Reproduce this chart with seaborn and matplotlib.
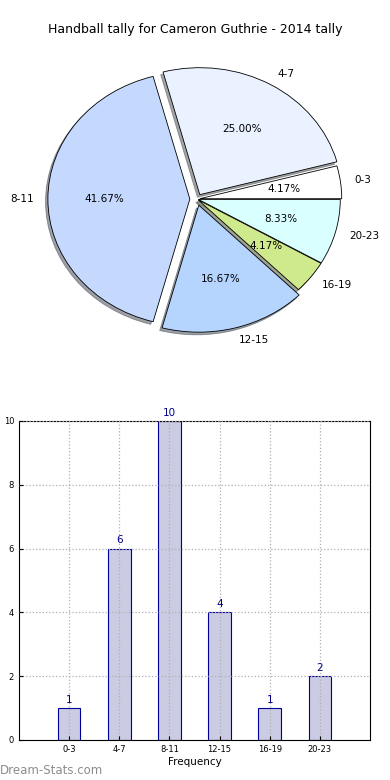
import numpy as np
import pandas as pd
import seaborn as sns
import matplotlib
matplotlib.use("Agg")
import matplotlib.pyplot as plt

# Handball tally data
ranges = ["0-3", "4-7", "8-11", "12-15", "16-19", "20-23"]
counts = [1, 6, 10, 4, 1, 2]
pie_colors = ["#ffffff", "#eaf2ff", "#c5d9ff", "#b5d5ff", "#cfea8c", "#d9ffff"]
explode = [0.02, 0.04, 0.05, 0.05, 0.01, 0.01]

sns.set_style("white")
plt.rcParams['font.family'] = ['DejaVu Sans']
plt.rcParams['text.color'] = 'black'
plt.rcParams['axes.labelcolor'] = 'black'
plt.rcParams['xtick.color'] = 'black'
plt.rcParams['ytick.color'] = 'black'

fig = plt.figure(figsize=(3.9, 7.8), dpi=100)

# Pie chart of the tally (slightly squashed, like the original)
ax_pie = fig.add_axes([0.05, 0.5413, 0.910, 0.407])
wedges, texts, autotexts = ax_pie.pie(counts, labels=ranges, colors=pie_colors, explode=explode,
                                      autopct='%1.2f%%', startangle=0,
                                      shadow={"ox": -0.012, "oy": -0.015},
                                      wedgeprops={"edgecolor": "black", "linewidth": 0.6},
                                      textprops={"fontsize": 7.5, "color": "black"})
ax_pie.set_aspect("auto")
ax_pie.set_xlim(-1.25, 1.25)
ax_pie.set_ylim(-1.25, 1.25)
fig.text(0.5, 1 - 30 / 780, "Handball tally for Cameron Guthrie - 2014 tally",
         ha="center", va="center", fontsize=9)

# Bar chart of the tally
df = pd.DataFrame({"Range": ranges, "Count": counts})
ax_bar = fig.add_axes([0.0487, 0.0513, 0.9, 0.409])
sns.barplot(data=df, x="Range", y="Count", color="#cbcbe3", saturation=1,
            edgecolor="#000099", linewidth=0.8, width=0.45, ax=ax_bar)
for i, c in enumerate(counts):
    ax_bar.text(i, c + 0.1, str(c), ha="center", va="bottom", color="#000088", fontsize=7.5)
ax_bar.set_xlim(-1, 6)
ax_bar.set_ylim(0, 10)
ax_bar.set_yticks([0, 2, 4, 6, 8, 10])
ax_bar.grid(True, linestyle=":", color="#b0b0b0", linewidth=0.9)
ax_bar.set_axisbelow(False)
ax_bar.tick_params(axis="both", labelsize=6, direction="in", length=3, left=True, bottom=True)
for s in ax_bar.spines.values():
    s.set_visible(True)
    s.set_color("black")
    s.set_linewidth(0.8)
ax_bar.set_xlabel("Frequency", fontsize=7.5, labelpad=2)
ax_bar.set_ylabel("Total Handballs", fontsize=7.5)
ax_bar.yaxis.set_label_coords(-0.058, 0.5)

fig.text(0.0, 1 - 771 / 780, "Dream-Stats.com", ha="left", va="center",
         fontsize=8.5, color="#8c8c8c")

plt.savefig("out.png", dpi=100)
